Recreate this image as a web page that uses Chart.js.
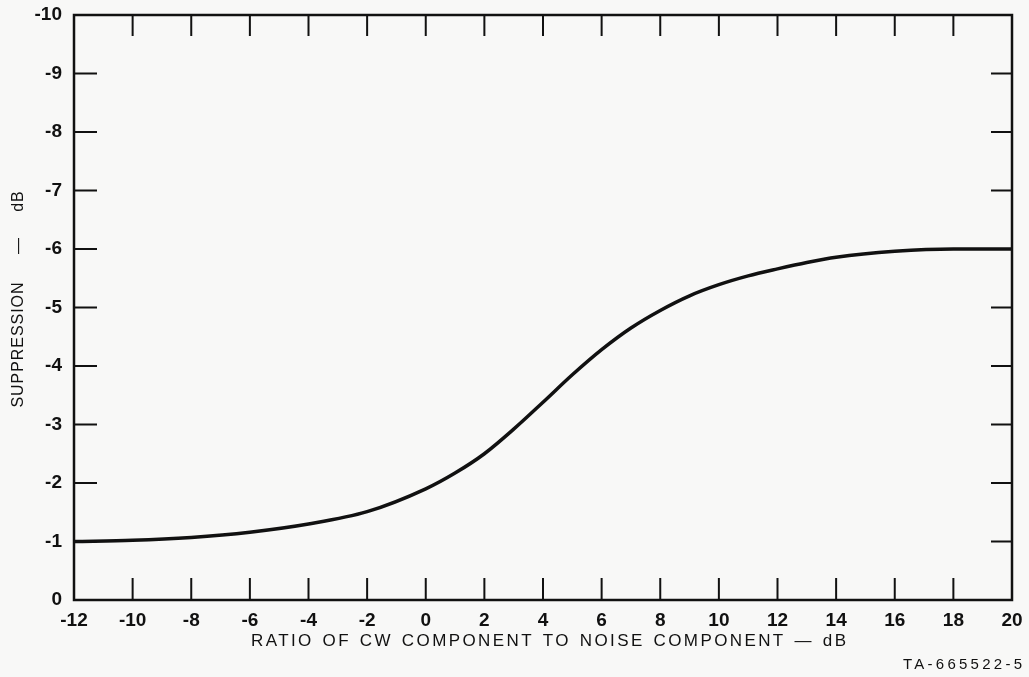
<!DOCTYPE html>
<html>
<head>
<meta charset="utf-8">
<script src="https://cdn.jsdelivr.net/npm/chart.js@4.4.0/dist/chart.umd.min.js"></script>
<style>
  html, body { margin: 0; padding: 0; background: #f8f8f7; }
  #wrap { width: 1029px; height: 677px; }
</style>
</head>
<body>
<div id="wrap"><canvas id="chart" width="1029" height="677"></canvas></div>
<script>
// curve (x = CW/noise ratio in dB, y = suppression in dB)
const ratioDb = [-12, -10, -8, -6, -4, -2, 0, 1, 2, 3, 4, 5, 6, 7, 8, 9, 10, 11, 12, 13, 14, 16, 18, 20];
const suppressionDb = [-1.0, -1.02, -1.07, -1.16, -1.30, -1.51, -1.9, -2.17, -2.5, -2.92, -3.38, -3.85,
    -4.28, -4.65, -4.95, -5.2, -5.39, -5.54, -5.66, -5.77, -5.86, -5.96, -6.0, -6.0];

const xTickValues = [-12, -10, -8, -6, -4, -2, 0, 2, 4, 6, 8, 10, 12, 14, 16, 18, 20];
const yTickValues = [0, -1, -2, -3, -4, -5, -6, -7, -8, -9, -10];

const xTitle = 'RATIO OF CW COMPONENT TO NOISE COMPONENT \u2014 dB';
const yTitleParts = ['SUPPRESSION', '\u2014', 'dB'];
const figureId = 'TA-665522-5';

const FONT = '"Liberation Sans", Arial, sans-serif';

// draw text stretched with letter spacing so it covers a given width
function spacedText(c, text, x, y, width) {
    c.letterSpacing = '0px';
    const w = c.measureText(text).width;
    const sp = (width - w) / Math.max(1, text.length - 1);
    c.letterSpacing = sp + 'px';
    c.fillText(text, x + (c.textAlign === 'center' ? sp / 2 : (c.textAlign === 'right' ? sp : 0)), y);
}

// fixed letter spacing, word gaps widened to fill the width
function wordSpacedText(c, text, x, y, width, letterSp) {
    c.letterSpacing = letterSp + 'px';
    c.wordSpacing = '0px';
    const w = c.measureText(text).width - letterSp;
    const gaps = text.split(' ').length - 1;
    c.wordSpacing = Math.max(0, (width - w) / Math.max(1, gaps)) + 'px';
    c.fillText(text, x, y);
    c.wordSpacing = '0px';
}

const FRAME_PLUGIN = {
    id: 'frame',
    beforeDraw(chart) {
        const c = chart.ctx;
        c.save();
        c.fillStyle = '#f8f8f7';
        c.fillRect(0, 0, chart.width, chart.height);
        c.restore();
    },
    afterDraw(chart) {
        const c = chart.ctx;
        const a = chart.chartArea;
        const xs = chart.scales.x;
        const ys = chart.scales.y;
        c.save();
        c.strokeStyle = '#111';
        c.lineWidth = 2.5;
        c.strokeRect(a.left, a.top, a.right - a.left, a.bottom - a.top);

        // inward tick marks
        c.lineWidth = 2;
        c.beginPath();
        xTickValues.slice(1, -1).forEach(v => {
            const px = xs.getPixelForValue(v);
            c.moveTo(px, a.bottom); c.lineTo(px, a.bottom - 22);
            c.moveTo(px, a.top); c.lineTo(px, a.top + 21);
        });
        yTickValues.slice(1, -1).forEach(v => {
            const py = ys.getPixelForValue(v);
            c.moveTo(a.left, py); c.lineTo(a.left + 23, py);
            c.moveTo(a.right, py); c.lineTo(a.right - 21, py);
        });
        c.stroke();

        // axis titles
        c.fillStyle = '#111';
        c.font = '17px ' + FONT;
        c.textAlign = 'left';
        c.textBaseline = 'middle';
        wordSpacedText(c, xTitle, 251, 641, 595, 2.4);

        c.save();
        c.translate(19, 0);
        c.rotate(-Math.PI / 2);
        c.textAlign = 'center';
        c.font = '16px ' + FONT;
        spacedText(c, yTitleParts[0], -345, 0, 125);
        c.letterSpacing = '0px';
        c.fillText(yTitleParts[1], -246, 0);
        c.letterSpacing = '1px';
        c.fillText(yTitleParts[2], -201, 0);
        c.restore();

        c.font = '15px ' + FONT;
        c.textAlign = 'right';
        spacedText(c, figureId, 1022, 665, 119);
        c.restore();
    }
};

new Chart(document.getElementById('chart'), {
    type: 'line',
    plugins: [FRAME_PLUGIN],
    data: {
        datasets: [{
            data: ratioDb.map((x, i) => ({ x: x, y: suppressionDb[i] })),
            borderColor: '#111',
            borderWidth: 3.5,
            pointRadius: 0,
            cubicInterpolationMode: 'monotone',
            fill: false
        }]
    },
    options: {
        responsive: false,
        animation: false,
        layout: { padding: { top: 15, right: 17, left: 0, bottom: 0 } },
        plugins: { legend: { display: false }, tooltip: { enabled: false } },
        scales: {
            x: {
                type: 'linear',
                min: -12,
                max: 20,
                border: { display: false },
                grid: { display: false, drawTicks: false },
                afterBuildTicks: s => { s.ticks = xTickValues.map(v => ({ value: v })); },
                afterFit: s => { s.height = 77; s.paddingLeft = 0; s.paddingRight = 0; },
                ticks: {
                    color: '#111',
                    padding: 9,
                    font: { family: FONT, size: 19, weight: 'bold' }
                }
            },
            y: {
                type: 'linear',
                min: -10,
                max: 0,
                reverse: true,
                border: { display: false },
                grid: { display: false, drawTicks: false },
                afterBuildTicks: s => { s.ticks = yTickValues.map(v => ({ value: v })); },
                afterFit: s => { s.width = 74; s.paddingTop = 0; s.paddingBottom = 0; },
                ticks: {
                    color: '#111',
                    padding: 12,
                    font: { family: FONT, size: 19, weight: 'bold' }
                }
            }
        }
    }
});
</script>
</body>
</html>
